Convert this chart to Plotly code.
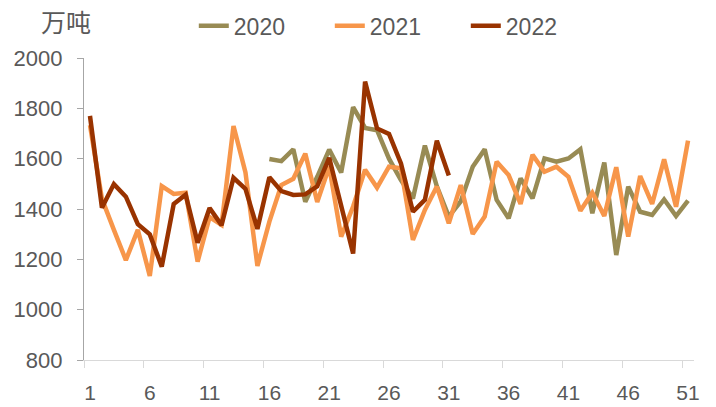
import plotly.graph_objects as go

weeks = list(range(1, 52))

y2020 = [None] * 15 + [1599, 1590, 1637, 1429, 1528, 1636, 1545, 1805, 1722, 1713,
                       1600, 1515, 1442, 1652, 1490, 1370, 1430, 1568, 1637, 1436,
                       1363, 1522, 1442, 1601, 1588, 1601, 1637, 1383, 1585, 1217,
                       1489, 1389, 1376, 1438, 1372, 1433]

y2021 = [1733, 1440, 1317, 1197, 1317, 1134, 1491, 1460, 1465, 1191,
         1368, 1337, 1730, 1545, 1174, 1350, 1495, 1520, 1620, 1428,
         1568, 1290, 1410, 1556, 1485, 1568, 1562, 1277, 1396, 1489,
         1343, 1495, 1301, 1370, 1588, 1535, 1420, 1615, 1548, 1568,
         1528, 1393, 1465, 1372, 1566, 1290, 1531, 1420, 1597, 1409,
         1672]

y2022 = [1770, 1405, 1499, 1449, 1340, 1299, 1171, 1420, 1457, 1266,
         1404, 1336, 1524, 1480, 1321, 1526, 1471, 1456, 1458, 1490,
         1603, 1410, 1223, 1906, 1720, 1698, 1581, 1389, 1436, 1671,
         1533]

series = [("2020", y2020, "#988B54"), ("2021", y2021, "#F7964A"), ("2022", y2022, "#993300")]

tick_label_vals = [1, 6, 11, 16, 21, 26, 31, 36, 41, 46, 51]
tick_mark_vals = [v - 0.5 for v in tick_label_vals]
y_ticks = [800, 1000, 1200, 1400, 1600, 1800, 2000]

font_family = "Liberation Sans, Arial, sans-serif"
txt_color = "#595959"

fig = go.Figure()
for name, ys, col in series:
    fig.add_trace(go.Scatter(x=weeks[:len(ys)], y=ys, name=name, mode="lines",
                             line=dict(color=col, width=4.5), connectgaps=False))
fig.add_trace(go.Scatter(x=[], y=[], xaxis="x2", showlegend=False, hoverinfo="skip"))

fig.update_layout(
    width=716, height=407,
    margin=dict(l=84, r=22, t=58, b=47, autoexpand=False),
    paper_bgcolor="white", plot_bgcolor="white",
    font=dict(family=font_family, color=txt_color, size=21),
    showlegend=True,
    legend=dict(orientation="h", x=0.18, xanchor="left", y=1.107, yanchor="middle",
                font=dict(size=23, color=txt_color), entrywidth=91, entrywidthmode="pixels",
                bgcolor="rgba(0,0,0,0)", traceorder="normal"),
    xaxis=dict(range=[0.5, 51.5], tickvals=tick_label_vals, ticktext=[str(v) for v in tick_label_vals],
               ticks="", showgrid=False, zeroline=False, showline=True, linecolor="#d9d9d9",
               linewidth=1.3, ticklabelstandoff=14, tickfont=dict(size=21, color=txt_color)),
    xaxis2=dict(range=[0.5, 51.5], overlaying="x", anchor="y", side="bottom",
                tickvals=tick_mark_vals, showticklabels=False, ticks="outside", ticklen=7,
                tickcolor="#d9d9d9", tickwidth=1.3, showgrid=False, zeroline=False, showline=False),
    yaxis=dict(range=[800, 2000], tickvals=y_ticks, ticks="outside", ticklen=6,
               tickcolor="#a6a6a6", tickwidth=1.3, showgrid=False, zeroline=False,
               showline=True, linecolor="#a6a6a6", linewidth=1.3, ticklabelstandoff=10,
               tickfont=dict(size=22, color=txt_color)),
)

fig.add_annotation(text="万吨", xref="paper", yref="paper", x=-0.0295, y=1.121,
                   xanchor="center", yanchor="middle", showarrow=False,
                   font=dict(family="Noto Sans CJK SC", size=25, color=txt_color))

fig.write_html("out.html", config={"displayModeBar": False},
               post_script="document.body.style.margin='0';document.body.style.overflow='hidden';")
